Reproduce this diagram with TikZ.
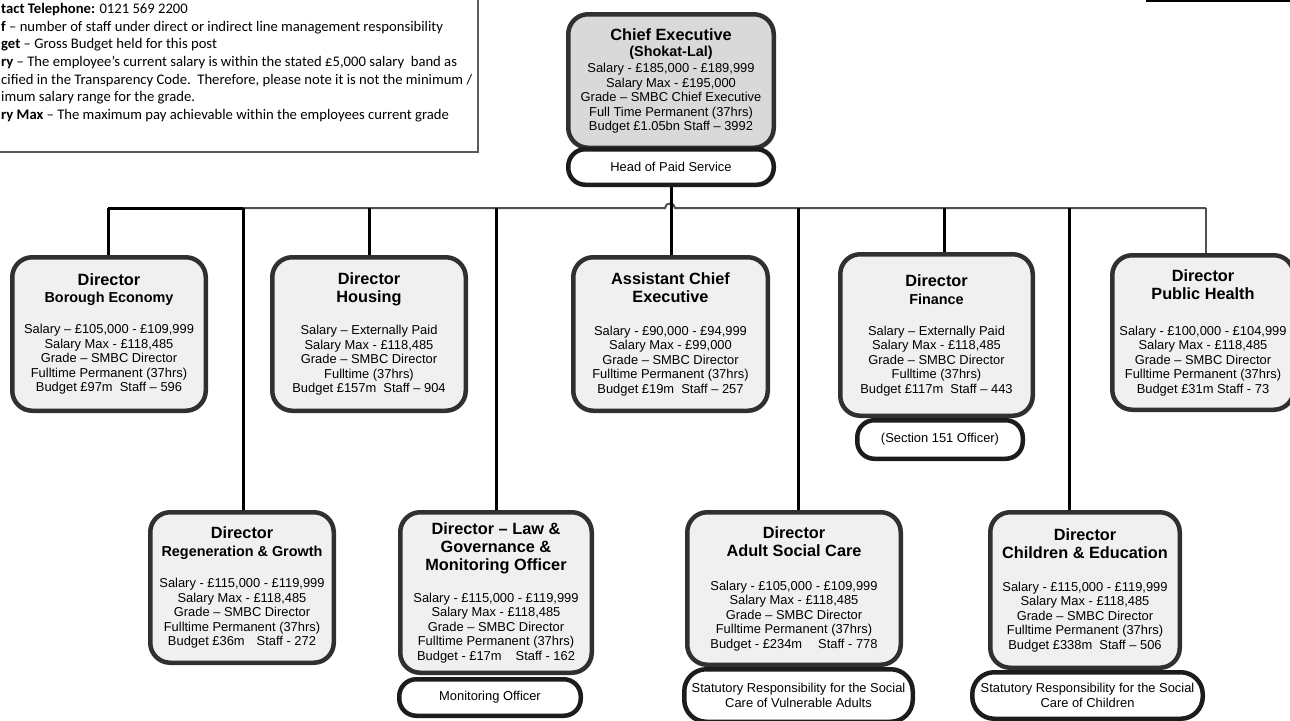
\documentclass[tikz,border=0pt]{standalone}
\usepackage{fontspec}
\newfontfamily\arialfont{Liberation Sans}
\newfontfamily\calfont{Carlito}
\definecolor{boxline}{HTML}{303030}
\definecolor{pillline}{HTML}{1C1C1C}
\definecolor{boxfill}{HTML}{F0F0F0}
\definecolor{ceofill}{HTML}{D9D9D9}
\definecolor{busgrey}{HTML}{505050}
\definecolor{keyline}{HTML}{5A5A5A}
\newcommand\detailfont{\arialfont\fontsize{12.9}{14.5}\selectfont}
\newcommand\keyfont{\calfont\fontsize{14.65}{17.7}\selectfont}
\newcommand\ttl[1]{{\bfseries\fontsize{16.3}{17}\selectfont #1}}
\newcommand\sbt[1]{{\bfseries\fontsize{14.4}{16}\selectfont #1}}

\begin{document}
\begin{tikzpicture}[x=1pt,y=-1pt,
  post/.style={draw=boxline,line width=4.5pt,rounded corners=20pt,fill=boxfill,align=center,font=\detailfont,inner sep=0pt},
  role/.style={draw=pillline,line width=4.5pt,rounded corners=17pt,fill=white,align=center,font=\detailfont,inner sep=0pt},
  link/.style={line width=3pt},
  bus/.style={line width=2pt,draw=busgrey}]
  \useasboundingbox (0,0) rectangle (1290,720);
  \node[draw=keyline,line width=1.5pt,minimum width=483pt,minimum height=157pt] (key) at (236.5,73.5) {};
  \node[font=\keyfont,align=left,inner sep=0pt,anchor=north west] (keytext) at (1,3) {%
    \textbf{tact Telephone:} 0121 569 2200\\
    \textbf{f} – number of staff under direct or indirect line management responsibility\\
    \textbf{get} – Gross Budget held for this post\\
    \textbf{ry} – The employee’s current salary is within the stated £5,000 salary\ \ band as\\
    cified in the Transparency Code.\ \ Therefore, please note it is not the minimum /\\
    imum salary range for the grade.\\
    \textbf{ry Max} – The maximum pay achievable within the employees current grade};
  \draw[line width=2pt] (1146,1) -- (1292,1);

  \node[post,fill=ceofill,minimum width=205.5pt,minimum height=133.5pt] (ceo) at (671,81)
    {\ttl{Chief Executive}\\[1.5pt] \sbt{(Shokat-Lal)}\\[1.5pt] Salary - £185,000 - £189,999\\ Salary Max - £195,000\\
     Grade – SMBC Chief Executive\\ Full Time Permanent (37hrs)\\ Budget £1.05bn Staff – 3992};
  \node[role,minimum width=205.5pt,minimum height=35.5pt] (hps) at (671,167) {Head of Paid Service};

  \node[post,minimum width=193.5pt,minimum height=153.5pt] (be) at (109,334)
    {\ttl{Director}\\[2.5pt] \sbt{Borough Economy}\\[16.5pt] Salary – £105,000 - £109,999\\ Salary Max - £118,485\\
     Grade – SMBC Director\\ Fulltime Permanent (37hrs)\\ Budget £97m\ \ Staff – 596};
  \node[post,minimum width=193.5pt,minimum height=153.5pt] (hou) at (369,334)
    {\ttl{Director}\\[3.5pt] \ttl{Housing}\\[17.5pt] Salary – Externally Paid\\ Salary Max - £118,485\\
     Grade – SMBC Director\\ Fulltime (37hrs)\\ Budget £157m\ \ Staff – 904};
  \node[post,minimum width=194.5pt,minimum height=153.5pt] (ace) at (670.5,334)
    {\ttl{Assistant Chief}\\[3.5pt] \ttl{Executive}\\[18.5pt] Salary - £90,000 - £94,999\\ Salary Max - £99,000\\
     Grade – SMBC Director\\ Fulltime Permanent (37hrs)\\ Budget £19m\ \ Staff – 257};
  \node[post,minimum width=192.5pt,minimum height=161.5pt] (fin) at (936.5,335)
    {\ttl{Director}\\[3.5pt] \sbt{Finance}\\[16.5pt] Salary – Externally Paid\\ Salary Max - £118,485\\
     Grade – SMBC Director\\ Fulltime (37hrs)\\ Budget £117m\ \ Staff – 443};
  \node[role,minimum width=165.5pt,minimum height=38.5pt] (s151) at (940,439.5) {(Section 151 Officer)};
  \node[post,minimum width=181.5pt,minimum height=154.5pt] (ph) at (1203,332.5)
    {\ttl{Director}\\[3.5pt] \ttl{Public Health}\\[21.5pt] Salary - £100,000 - £104,999\\ Salary Max - £118,485\\
     Grade – SMBC Director\\ Fulltime Permanent (37hrs)\\ Budget £31m Staff - 73};

  \node[post,minimum width=183.5pt,minimum height=150.5pt] (regen) at (242,587.5)
    {\ttl{Director}\\[3.5pt] \sbt{Regeneration \& Growth}\\[16.5pt] Salary - £115,000 - £119,999\\ Salary Max - £118,485\\
     Grade – SMBC Director\\ Fulltime Permanent (37hrs)\\ Budget £36m\hspace{12pt}Staff - 272};
  \node[post,minimum width=191.5pt,minimum height=160.5pt] (law) at (496,592.5)
    {\ttl{Director – Law \&}\\[3.5pt] \ttl{Governance \&}\\[3.5pt] \ttl{Monitoring Officer}\\[17.5pt] Salary - £115,000 - £119,999\\
     Salary Max - £118,485\\ Grade – SMBC Director\\ Fulltime Permanent (37hrs)\\ Budget - £17m\hspace{14pt}Staff - 162};
  \node[role,minimum width=181.5pt,minimum height=36.5pt] (mo) at (490,697.5) {Monitoring Officer};
  \node[post,minimum width=213.5pt,minimum height=152.5pt] (asc) at (794,588.5)
    {\ttl{Director}\\[3.5pt] \ttl{Adult Social Care}\\[19.5pt] Salary - £105,000 - £109,999\\ Salary Max - £118,485\\
     Grade – SMBC Director\\ Fulltime Permanent (37hrs)\\ Budget - £234m\hspace{16pt}Staff - 778};
  \node[role,rounded corners=22pt,minimum width=228.5pt,minimum height=52.5pt] (ascrole) at (798.5,695.5)
    {Statutory Responsibility for the Social\\ Care of Vulnerable Adults};
  \node[post,minimum width=189.5pt,minimum height=155.5pt] (ce) at (1085,590)
    {\ttl{Director}\\[3.5pt] \ttl{Children \& Education}\\[18.5pt] Salary - £115,000 - £119,999\\ Salary Max - £118,485\\
     Grade – SMBC Director\\ Fulltime Permanent (37hrs)\\ Budget £338m\ \ Staff – 506};
  \node[role,rounded corners=22pt,minimum width=230.5pt,minimum height=46.5pt] (cerole) at (1087.5,695.5)
    {Statutory Responsibility for the Social\\ Care of Children};

  \coordinate (j1) at (108,208);
  \coordinate (j2) at (243,208);
  \coordinate (j3) at (369,208);
  \coordinate (j4) at (496,208);
  \coordinate (hopl) at (665,208);
  \coordinate (hopr) at (675,208);
  \coordinate (j6) at (798,208);
  \coordinate (j7) at (944,208);
  \coordinate (j8) at (1069,208);
  \coordinate (j9) at (1206,208);
  \draw[bus] (j2) -- (hopl) .. controls (665,202) and (675,202) .. (hopr) -- (j9);
  \path[link,draw]
    (j1) edge (j2)
    (j1) edge (j1 |- be.north)
    (j2) edge (j2 |- regen.north)
    (j3) edge (j3 |- hou.north)
    (j4) edge (j4 |- law.north)
    (hps.south) edge (hps.south |- ace.north)
    (j6) edge (j6 |- asc.north)
    (j7) edge (j7 |- fin.north)
    (j8) edge (j8 |- ce.north);
  \draw[bus] (j9) -- (j9 |- ph.north);
\end{tikzpicture}
\end{document}
